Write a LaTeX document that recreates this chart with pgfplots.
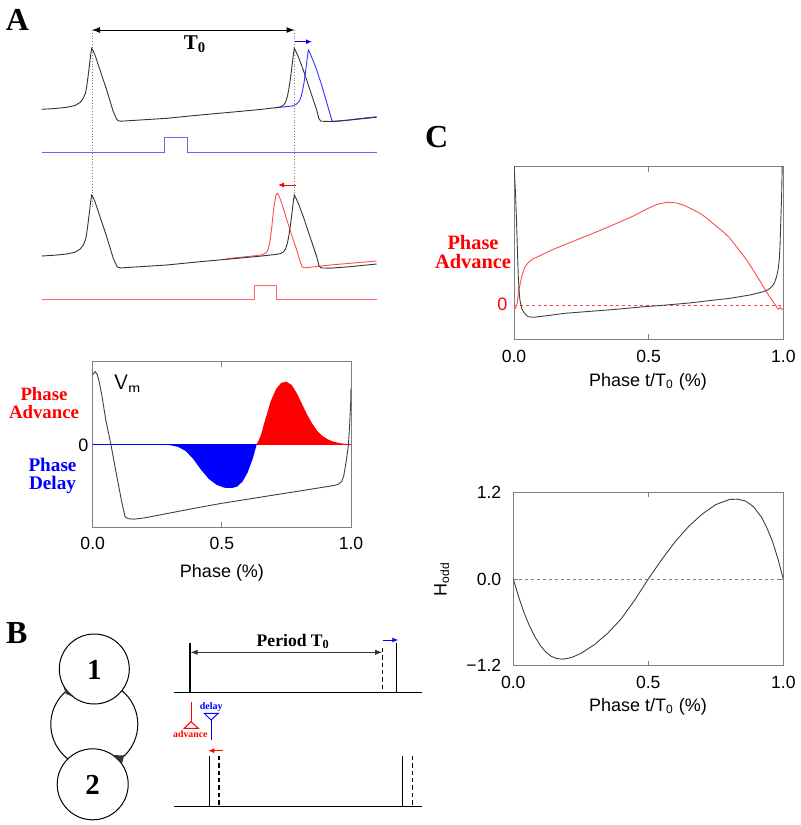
\documentclass[border=0pt]{standalone}
\usepackage{pgfplots}
\pgfplotsset{compat=1.18}
\usepackage{pgfplotstable}
\usepackage{fontspec}
\setmainfont{Liberation Sans}
\newfontfamily\serif{Liberation Serif}
\usetikzlibrary{arrows.meta}

% ---------- Panel A traces (pixel coordinates) ----------
\pgfplotstableread{
x y
41.7 109.3
55 108.5
66.7 107.3
75 105.5
80 102.5
83.3 98.3
85.5 93
86.7 86.7
88 77
89.3 66.7
90.5 56
91.7 48.3
93 50.5
95 55
100 70
106.7 90
113.3 111.7
116.7 119.3
118.5 120.8
121 121.2
140 120
166.7 118.3
200 115
233.3 112
260 109.5
275 107.8
280 107
283 105.5
285.5 102.5
287.5 96
289 88
290.5 78
292 66
293.3 55
294.3 48.3
295.5 50.5
298.3 56.7
303.3 70
310 90
316.7 110
319 119
321 121.2
330 121.5
350 120
376.7 117.3
}\traceblack

\pgfplotstableread{
x y
275 107.8
285 106.8
292 106
296 104.5
299 101.5
301 97
302.5 91
304 83
305.5 72
307 60
308.3 50
309.5 52
312 58
316 68
321 83
326 100
330 114
332 120.5
334 121.7
345 120.5
360 118.5
376.7 116.7
}\traceblue

\pgfplotstableread{
x y
226.7 258.7
250 256.3
262 254.8
266.7 252.5
268.5 248
270 241
271.7 228
273 215
274.5 203
276 195
277.3 193.3
278.5 195
280 198.5
283.3 208.3
290 230
296.7 250
300 261
302 266.5
304 267.8
310 267.3
330 265
350 263.3
376.7 261
}\tracered

% ---------- Panel A PRC ----------
\pgfplotstableread{
x y
0.000 0.84
0.009 0.88
0.017 0.85
0.025 0.76
0.035 0.60
0.051 0.29
0.071 -0.01
0.09 -0.33
0.112 -0.69
0.125 -0.875
0.138 -0.90
0.16 -0.905
0.20 -0.89
0.30 -0.83
0.40 -0.77
0.50 -0.713
0.60 -0.664
0.70 -0.614
0.80 -0.565
0.90 -0.515
0.931 -0.50
0.95 -0.485
0.964 -0.45
0.972 -0.38
0.977 -0.29
0.984 -0.15
0.99 -0.01
0.995 0.25
0.999 0.52
1.000 0.68
}\vmA

\pgfplotstableread{
x y
0.635 0
0.65 0.10
0.67 0.32
0.69 0.53
0.71 0.67
0.73 0.745
0.75 0.758
0.77 0.72
0.79 0.62
0.81 0.49
0.83 0.36
0.85 0.25
0.87 0.16
0.89 0.10
0.91 0.06
0.93 0.035
0.95 0.018
0.97 0.008
1.0 0.0
}\advA

\pgfplotstableread{
x y
0.25 0
0.30 -0.01
0.33 -0.03
0.36 -0.08
0.39 -0.18
0.42 -0.31
0.45 -0.42
0.48 -0.49
0.51 -0.525
0.54 -0.528
0.56 -0.51
0.58 -0.45
0.60 -0.34
0.62 -0.17
0.635 0
}\delA

% ---------- Panel C top ----------
\pgfplotstableread{
x y
0.000 1.40
0.006 1.10
0.010 0.783
0.013 0.52
0.016 0.283
0.019 0.13
0.022 0.05
0.028 -0.03
0.035 -0.067
0.045 -0.10
0.053 -0.117
0.072 -0.123
0.12 -0.108
0.189 -0.083
0.30 -0.06
0.381 -0.043
0.47 -0.02
0.567 0.0
0.65 0.02
0.73 0.045
0.802 0.067
0.876 0.10
0.926 0.133
0.945 0.155
0.957 0.183
0.967 0.22
0.975 0.283
0.981 0.36
0.985 0.45
0.988 0.6
0.990 0.783
0.992 0.95
0.994 1.117
0.996 1.40
}\vmC

\pgfplotstableread{
x y
0.000 -0.05
0.008 -0.02
0.012 0.02
0.016 0.117
0.022 0.20
0.0285 0.283
0.035 0.34
0.041 0.383
0.05 0.415
0.059 0.44
0.07 0.46
0.09 0.485
0.14 0.55
0.19 0.605
0.25 0.67
0.319 0.745
0.38 0.815
0.443 0.89
0.493 0.96
0.53 1.005
0.567 1.027
0.60 1.022
0.629 1.0
0.66 0.96
0.691 0.917
0.72 0.86
0.753 0.783
0.78 0.725
0.802 0.667
0.83 0.57
0.864 0.45
0.895 0.32
0.926 0.183
0.945 0.10
0.957 0.05
0.969 0.007
0.981 -0.043
0.988 -0.023
0.994 -0.043
1.0 -0.04
}\prcC

% ---------- Panel C bottom ----------
\pgfplotstableread{
x y
0.00 0.00
0.02 -0.25
0.04 -0.47
0.06 -0.65
0.08 -0.80
0.10 -0.92
0.12 -1.01
0.14 -1.07
0.16 -1.10
0.18 -1.11
0.20 -1.10
0.22 -1.08
0.25 -1.03
0.30 -0.91
0.35 -0.75
0.40 -0.55
0.45 -0.29
0.50 0.00
0.55 0.27
0.60 0.52
0.65 0.73
0.70 0.90
0.75 1.03
0.80 1.10
0.83 1.105
0.86 1.08
0.89 1.00
0.92 0.85
0.94 0.70
0.96 0.52
0.98 0.28
1.00 0.00
}\hodd

\pgfplotsset{
  panel/.style={scale only axis, anchor=south west, clip=true,
    axis line style={black!50}, tick style={black!50, line width=0.4pt},
    major tick length=2.5pt, tick align=inside,
    xtick={0,0.5,1}, xticklabels={0.0,0.5,1.0}, xmin=0, xmax=1,
    tick label style={font=\fontsize{8.8}{9}\selectfont},
    xticklabel style={yshift=-1.8pt},
    every axis plot/.append style={line width=0.45pt}},
}

\begin{document}
\begin{tikzpicture}
\useasboundingbox (0,0) rectangle (400pt,412.5pt);

% ===== overall pixel axis for schematic parts =====
\begin{axis}[at={(0pt,0pt)}, anchor=south west, scale only axis,
  width=400pt, height=412.5pt, xmin=0, xmax=800, ymin=0, ymax=825,
  y dir=reverse, hide axis, clip=false]

% panel letters
\node[font=\serif\bfseries\fontsize{16}{18}\selectfont] at (axis cs:17.5,19.5) {A};
\node[font=\serif\bfseries\fontsize{16}{18}\selectfont] at (axis cs:16.7,633) {B};
\node[font=\serif\bfseries\fontsize{16}{18}\selectfont] at (axis cs:436.7,136.7) {C};

% dotted guides
\addplot[black!50, densely dotted, line width=0.4pt] coordinates {(92,30) (92,207)};
\addplot[black!50, densely dotted, line width=0.4pt] coordinates {(294.5,30) (294.5,200)};

% T0 arrow
\addplot[black, line width=0.5pt, {Latex[length=4pt,width=3pt]}-{Latex[length=4pt,width=3pt]}] coordinates {(92,30) (294.5,30)};
\node[font=\serif\bfseries\fontsize{10.5}{12}\selectfont] at (axis cs:195,44) {T\textsubscript{0}};
\addplot[blue, line width=0.5pt, -{Latex[length=3pt,width=2.5pt]}] coordinates {(295,41.7) (312,41.7)};
\addplot[red, line width=0.5pt, -{Latex[length=3pt,width=2.5pt]}] coordinates {(296,185) (278,185)};

% traces
\addplot[blue!80, line width=0.45pt] table[x=x,y=y] {\traceblue};
\addplot[black!80, line width=0.45pt] table[x=x,y=y] {\traceblack};
\addplot[red!70, line width=0.45pt] table[x=x,y=y] {\tracered};
\addplot[black!80, line width=0.45pt] table[x=x, y expr=\thisrow{y}+146.7] {\traceblack};

% stimulus pulses
\addplot[blue!60, line width=0.45pt] coordinates {(42,152.7) (164,152.7) (164,137.7) (187,137.7) (187,152.7) (377,152.7)};
\addplot[red!60, line width=0.45pt] coordinates {(42,299) (254,299) (254,285) (276,285) (276,299) (377,299)};

% labels of PRC panel A
\node[font=\sffamily\fontsize{10.5}{12}\selectfont, anchor=west] at (axis cs:107,384) {V\textsubscript{m}};
\node[font=\serif\bfseries\fontsize{9.4}{9}\selectfont, red, align=center] at (axis cs:44,403) {Phase\\Advance};
\node[font=\fontsize{9}{10}\selectfont] at (axis cs:83.5,445) {0};
\node[font=\serif\bfseries\fontsize{9.6}{9.3}\selectfont, blue, align=center] at (axis cs:52.5,476) {Phase\\Delay};
\node[font=\fontsize{9}{10}\selectfont] at (axis cs:222,573) {Phase (\%)};

% labels panel C
\node[font=\serif\bfseries\fontsize{10.2}{9.8}\selectfont, red, align=center] at (axis cs:473,252) {Phase\\Advance};
\node[font=\fontsize{9}{10}\selectfont, red] at (axis cs:502.5,304.3) {0};
\node[font=\fontsize{9}{10}\selectfont] at (axis cs:648,381.7) {Phase t/T\textsubscript{0} (\%)};
\node[font=\fontsize{9}{10}\selectfont] at (axis cs:648,706.7) {Phase t/T\textsubscript{0} (\%)};
\node[font=\fontsize{9}{10}\selectfont, rotate=90] at (axis cs:441.7,579) {H\textsubscript{odd}};

% ===== panel B schematic =====
\draw[line width=0.5pt] (axis cs:94.3,724.3) circle [radius=21.75pt];
\filldraw[fill=white, line width=0.5pt] (axis cs:94.3,669) circle [radius=17.5pt];
\filldraw[fill=white, line width=0.5pt] (axis cs:92.7,784.3) circle [radius=17.75pt];
\fill[black!80] (axis cs:63.5,687) -- (axis cs:75,697.5) -- (axis cs:66,694) -- cycle;
\fill[black!80] (axis cs:112,755) -- (axis cs:124,755.5) -- (axis cs:122,764) -- cycle;
\node[font=\serif\bfseries\fontsize{14.5}{16}\selectfont] at (axis cs:94.3,670) {1};
\node[font=\serif\bfseries\fontsize{14.5}{16}\selectfont] at (axis cs:92.7,785) {2};

% raster 1
\addplot[black, line width=0.5pt] coordinates {(174,692.7) (421.7,692.7)};
\addplot[black, line width=0.75pt] coordinates {(190,642.7) (190,692.7)};
\addplot[black, line width=0.75pt, dash pattern=on 2.2pt off 1.5pt] coordinates {(382.7,647.7) (382.7,692.7)};
\addplot[black, line width=0.75pt] coordinates {(396.7,642.7) (396.7,692.7)};
\addplot[black!80, line width=0.4pt, {Latex[length=3.5pt,width=2.6pt]}-{Latex[length=3.5pt,width=2.6pt]}] coordinates {(190.5,652.3) (382.2,652.3)};
\node[font=\serif\bfseries\fontsize{8.8}{10}\selectfont, fill=white, inner sep=0.5pt] at (axis cs:293.3,641.7) {Period T\textsubscript{0}};
\addplot[blue, line width=0.5pt, -{Latex[length=3pt,width=2.5pt]}] coordinates {(382.7,640) (398.3,640)};

% raster 2
\addplot[black, line width=0.5pt] coordinates {(174,806) (421.7,806)};
\addplot[black, line width=0.75pt] coordinates {(209.3,755.7) (209.3,806)};
\addplot[black, line width=0.75pt, dash pattern=on 2.2pt off 1.5pt] coordinates {(219,755.7) (219,806)};
\addplot[black, line width=0.75pt] coordinates {(402.3,755.7) (402.3,806)};
\addplot[black, line width=0.75pt, dash pattern=on 2.2pt off 1.5pt] coordinates {(412.3,755.7) (412.3,806)};
\addplot[red, line width=0.5pt, -{Latex[length=3pt,width=2.5pt]}] coordinates {(223,750.7) (208.3,750.7)};

% synapse symbols
\addplot[red, line width=0.5pt] coordinates {(191,701.7) (191,721.7)};
\draw[red, line width=0.5pt] (axis cs:191,721.7) -- (axis cs:184.3,728.3) -- (axis cs:198.3,728.3) -- cycle;
\node[font=\serif\bfseries\fontsize{4.9}{6}\selectfont, red] at (axis cs:190.3,734) {advance};
\addplot[blue, line width=0.5pt] coordinates {(211,720) (211,740)};
\draw[blue, line width=0.5pt] (axis cs:204.3,713.3) -- (axis cs:218.3,713.3) -- (axis cs:211,720) -- cycle;
\node[font=\serif\bfseries\fontsize{5}{6}\selectfont, blue] at (axis cs:211.3,707.3) {delay};
\end{axis}

% ===== Panel A: PRC =====
\begin{axis}[panel, at={(46.35pt,149pt)}, width=129.15pt, height=82.65pt,
  ymin=-1, ymax=1, ytick=\empty]
\addplot[fill=red, draw=none] table[x=x,y=y] {\advA} \closedcycle;
\addplot[fill=blue, draw=none] table[x=x,y=y] {\delA} \closedcycle;
\addplot[blue, line width=0.5pt] coordinates {(0,0) (0.635,0)};
\addplot[red, line width=0.5pt] coordinates {(0.635,0) (1,0)};
\addplot[black!75] table[x=x,y=y] {\vmA};
\end{axis}

% ===== Panel C top =====
\begin{axis}[panel, at={(257pt,242.85pt)}, width=134.65pt, height=86.3pt,
  ymin=-0.343, ymax=1.383, ytick=\empty]
\addplot[red!75, line width=0.4pt, dash pattern=on 1.5pt off 1.5pt] coordinates {(0,0) (1,0)};
\addplot[red!70] table[x=x,y=y] {\prcC};
\addplot[black!75] table[x=x,y=y] {\vmC};
\end{axis}

% ===== Panel C bottom =====
\begin{axis}[panel, at={(256.65pt,79.65pt)}, width=135pt, height=86.7pt,
  ymin=-1.2, ymax=1.2, ytick={-1.2,0,1.2}, yticklabels={−1.2,0.0,1.2},
  yticklabel style={xshift=-2.5pt}]
\addplot[black!50, line width=0.4pt, dash pattern=on 1.5pt off 1.5pt] coordinates {(0,0) (1,0)};
\addplot[black!75] table[x=x,y=y] {\hodd};
\end{axis}
\end{tikzpicture}
\end{document}
